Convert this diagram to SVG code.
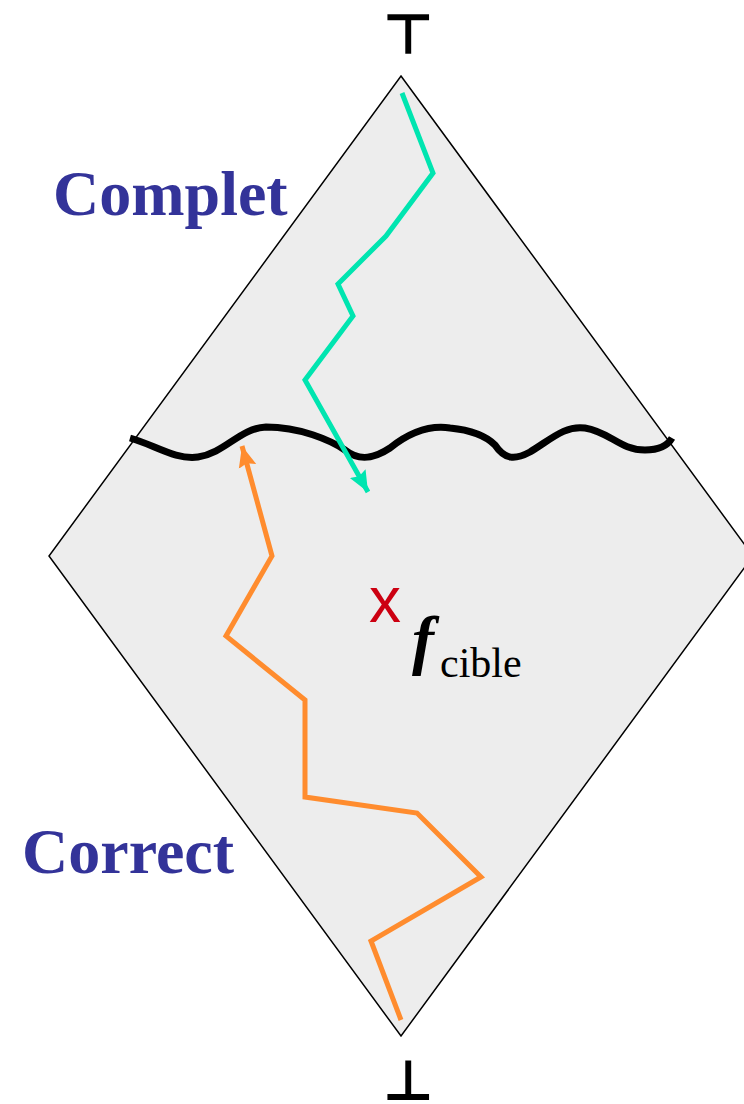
<svg xmlns="http://www.w3.org/2000/svg" width="744" height="1104" viewBox="0 0 744 1104">
<defs>
<style>
.lbl{font-family:"Liberation Serif","Times New Roman",serif;font-weight:bold;font-size:64px;fill:#333399}
.sym{font-family:"DejaVu Sans","Liberation Sans",sans-serif;font-weight:bold;font-size:56px;fill:#000}
.teal{fill:none;stroke:#00E5B0;stroke-width:5;stroke-linejoin:miter}
.orange{fill:none;stroke:#FF8C2E;stroke-width:5;stroke-linejoin:miter}
</style>
<marker id="ahT" markerUnits="userSpaceOnUse" markerWidth="22" markerHeight="20" viewBox="0 0 22 20" refX="21" refY="10" orient="auto">
<path d="M0,1 L21,10 L0,19 L3,10 Z" fill="#00E5B0"/>
</marker>
<marker id="ahO" markerUnits="userSpaceOnUse" markerWidth="22" markerHeight="20" viewBox="0 0 22 20" refX="21" refY="10" orient="auto">
<path d="M0,1 L21,10 L0,19 L3,10 Z" fill="#FF8C2E"/>
</marker>
</defs>
<rect width="744" height="1104" fill="#fff"/>
<g id="lattice">
<polygon points="401,76 753,556 401,1036 49,556" fill="#EDEDED" stroke="#000" stroke-width="1.5"/>
</g>
<g id="top"><text class="sym" x="408" y="54" text-anchor="middle">⊤</text></g>
<g id="bottom"><text class="sym" x="408" y="1100" text-anchor="middle">⊥</text></g>
<g id="complet"><text class="lbl" x="53" y="215">Complet</text></g>
<g id="correct"><text class="lbl" x="22" y="873">Correct</text></g>
<g id="target">
<text x="369" y="622" font-family="Liberation Sans, Arial, sans-serif" font-size="64" fill="#CC0011">x</text>
<text x="412" y="662" font-family="Liberation Serif, Times New Roman, serif" font-size="66" font-style="italic" font-weight="bold" fill="#000">f<tspan font-size="42" font-style="normal" font-weight="normal" dx="6" dy="15">cible</tspan></text>
</g>
<g id="connectors">
<path d="M130,438 C155,445 175,460 198,457 C225,453 240,428 266,427 C300,427 330,440 345,450 C360,462 375,458 390,448 C410,432 430,425 450,428 C470,430 485,435 495,445 C505,460 515,460 530,452 C550,440 565,425 585,428 C610,432 620,450 645,450 C660,450 668,445 672,438" fill="none" stroke="#000" stroke-width="7"/>
<polyline class="teal" points="402,93 433,173 386,236 338,284 353,316 305,380 368,492" marker-end="url(#ahT)"/>
<polyline class="orange" points="401,1020 371,941 481,877 417,813 305,797 305,700 226,636 272,556 242,446" marker-end="url(#ahO)"/>
</g>
</svg>
